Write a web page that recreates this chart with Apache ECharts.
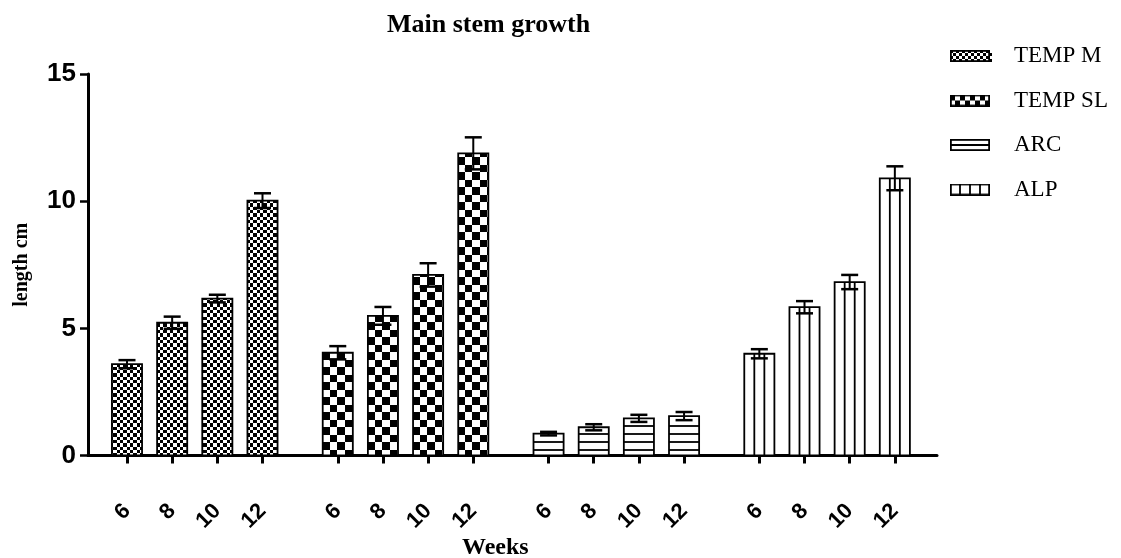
<!DOCTYPE html>
<html><head><meta charset="utf-8">
<script src="https://cdn.jsdelivr.net/npm/echarts@6/dist/echarts.min.js"></script>
<style>html,body{margin:0;padding:0;background:#fff}#c{width:1121px;height:558px}</style>
</head><body><div id="c"></div>
<script>
// ---- data ----
const chartTitle = 'Main stem growth';
const xName = 'Weeks';
const yName = 'length cm';
const weeks = ['6', '8', '10', '12'];
const seriesNames = ['TEMP M', 'TEMP SL', 'ARC', 'ALP'];
const tempM = [3.59, 5.22, 6.17, 10.02];
const tempMErr = [0.16, 0.24, 0.15, 0.29];
const tempSL = [4.04, 5.49, 7.10, 11.88];
const tempSLErr = [0.26, 0.35, 0.46, 0.63];
const arc = [0.86, 1.11, 1.46, 1.55];
const arcErr = [0.07, 0.12, 0.14, 0.16];
const alp = [4.00, 5.83, 6.82, 10.90];
const alpErr = [0.18, 0.24, 0.28, 0.47];
const yTicks = [0, 5, 10, 15];

// ---- layout (slot units along x) ----
const SLOT_STEP = 3, GROUP_STRIDE = 14;
const groups = [[tempM, tempMErr], [tempSL, tempSLErr], [arc, arcErr], [alp, alpErr]];
const positions = [];
const posLabel = {};
groups.forEach((g, gi) => weeks.forEach((w, wi) => {
  const p = gi * GROUP_STRIDE + wi * SLOT_STEP;
  positions.push(p); posLabel[p] = w;
}));

// ---- patterns ----
function makeChecker(bounds) {
  const n = bounds[bounds.length - 1];
  const c = document.createElement('canvas'); c.width = n; c.height = n;
  const g = c.getContext('2d');
  g.fillStyle = '#fff'; g.fillRect(0, 0, n, n); g.fillStyle = '#000';
  for (let i = 0; i < bounds.length - 1; i++)
    for (let j = 0; j < bounds.length - 1; j++)
      if ((i + j) % 2 === 0) g.fillRect(bounds[i], bounds[j], bounds[i + 1] - bounds[i], bounds[j + 1] - bounds[j]);
  return c;
}
const smallChecker = makeChecker([0, 3, 7, 10, 13, 17, 20]);
const bigChecker = makeChecker([0, 7, 15]);
const fills = [
  { image: smallChecker, repeat: 'repeat' },
  { image: bigChecker, repeat: 'repeat' },
  '#fff', '#fff'
];

function legendIcon(kind) {
  const c = document.createElement('canvas'); c.width = 59; c.height = 12;
  const g = c.getContext('2d');
  const W = 40, H = 12;
  g.fillStyle = '#fff'; g.fillRect(0, 0, W, H);
  g.fillStyle = '#000';
  if (kind === 0) {
    for (let x = 0; x < W; x += 3) for (let y = 0; y < H; y += 3)
      if (((x + y) / 3) % 2 === 0) g.fillRect(x, y, 3, 3);
  } else if (kind === 1) {
    for (let x = 0; x < W; x += 5) for (let y = 1; y < H; y += 5)
      if (((x + y - 1) / 5) % 2 === 0) g.fillRect(x, y, 5, 5);
  }
  g.strokeStyle = '#000'; g.lineWidth = 1.8;
  if (kind === 2) { g.beginPath(); g.moveTo(0, 6); g.lineTo(W, 6); g.stroke(); }
  if (kind === 3) {
    g.beginPath();
    [10, 20, 30].forEach(x => { g.moveTo(x, 0); g.lineTo(x, H); });
    g.stroke();
  }
  g.strokeRect(0.9, 0.9, W - 1.8, H - 1.8);
  return c.toDataURL();
}

function makeRender(kind) {
  return function (params, api) {
    const x = api.value(0), v = api.value(1), e = api.value(2);
    const base = api.coord([x, 0]);
    const top = api.coord([x, v]);
    const w = api.size([2, 0])[0];
    const left = base[0] - w / 2;
    const children = [];
    children.push({
      type: 'rect',
      shape: { x: left, y: top[1], width: w, height: base[1] - top[1] },
      style: { fill: fills[kind], stroke: '#000', lineWidth: 1.8 }
    });
    if (kind === 2) {
      for (let yy = base[1] - 5.5; yy > top[1] + 3; yy -= 8) {
        children.push({ type: 'line', shape: { x1: left, y1: yy, x2: left + w, y2: yy }, style: { stroke: '#000', lineWidth: 1.8 } });
      }
    }
    if (kind === 3) {
      [1, 2].forEach(k => {
        const xx = left + w * k / 3;
        children.push({ type: 'line', shape: { x1: xx, y1: top[1], x2: xx, y2: base[1] }, style: { stroke: '#000', lineWidth: 1.8 } });
      });
    }
    const hi = api.coord([x, v + e])[1], lo = api.coord([x, v - e])[1];
    const cx = base[0], cap = 8.5;
    children.push({ type: 'line', shape: { x1: cx, y1: lo, x2: cx, y2: hi }, style: { stroke: '#000', lineWidth: 2 } });
    children.push({ type: 'line', shape: { x1: cx - cap, y1: hi, x2: cx + cap, y2: hi }, style: { stroke: '#000', lineWidth: 2.5 } });
    children.push({ type: 'line', shape: { x1: cx - cap, y1: lo, x2: cx + cap, y2: lo }, style: { stroke: '#000', lineWidth: 2.5 } });
    return { type: 'group', children };
  };
}

const chart = echarts.init(document.getElementById('c'), null, { renderer: 'canvas' });
const series = groups.map((g, gi) => ({
  name: seriesNames[gi],
  type: 'custom',
  clip: false,
  renderItem: makeRender(gi),
  itemStyle: { color: '#000' },
  encode: { x: 0, y: 1 },
  data: weeks.map((w, wi) => [gi * GROUP_STRIDE + wi * SLOT_STEP, g[0][wi], g[1][wi]])
}));

chart.setOption({
  animation: false,
  backgroundColor: '#fff',
  title: [
    { text: chartTitle, left: 382, top: 7, textStyle: { fontFamily: 'Liberation Serif', fontWeight: 'bold', fontSize: 26, color: '#000' } },
    { text: xName, left: 457, top: 531, textStyle: { fontFamily: 'Liberation Serif', fontWeight: 'bold', fontSize: 24, color: '#000' } }
  ],
  legend: {
    orient: 'vertical', left: 945, top: 39, itemWidth: 59, itemHeight: 12, itemGap: 20.5,
    selectedMode: false,
    textStyle: { fontFamily: 'Liberation Serif', fontSize: 23, lineHeight: 24, color: '#000' },
    data: seriesNames.map((n, i) => ({ name: n, icon: 'image://' + legendIcon(i) }))
  },
  grid: { left: 88, right: 184, top: 74, bottom: 102.5, containLabel: false },
  xAxis: {
    type: 'value', min: -2.59, max: 53.8,
    axisLine: { show: true, onZero: false, lineStyle: { color: '#000', width: 3 } },
    splitLine: { show: false },
    axisTick: { show: true, customValues: positions, length: 8, lineStyle: { color: '#000', width: 3 } },
    axisLabel: {
      customValues: positions, rotate: 45, margin: 52,
      formatter: v => posLabel[v] || '',
      fontFamily: 'Liberation Sans', fontWeight: 'bold', fontSize: 22, color: '#000'
    }
  },
  yAxis: {
    type: 'value', min: yTicks[0], max: yTicks[yTicks.length - 1], interval: 5,
    name: yName, nameLocation: 'middle', nameGap: 56,
    nameTextStyle: { fontFamily: 'Liberation Serif', fontWeight: 'bold', fontSize: 20, color: '#000' },
    axisLine: { show: true, onZero: false, lineStyle: { color: '#000', width: 3 } },
    axisTick: { show: true, length: 8, lineStyle: { color: '#000', width: 2.5 } },
    splitLine: { show: false },
    axisLabel: { margin: 12, fontFamily: 'Liberation Sans', fontWeight: 'bold', fontSize: 26, color: '#000' }
  },
  series
});
</script>
</body></html>
